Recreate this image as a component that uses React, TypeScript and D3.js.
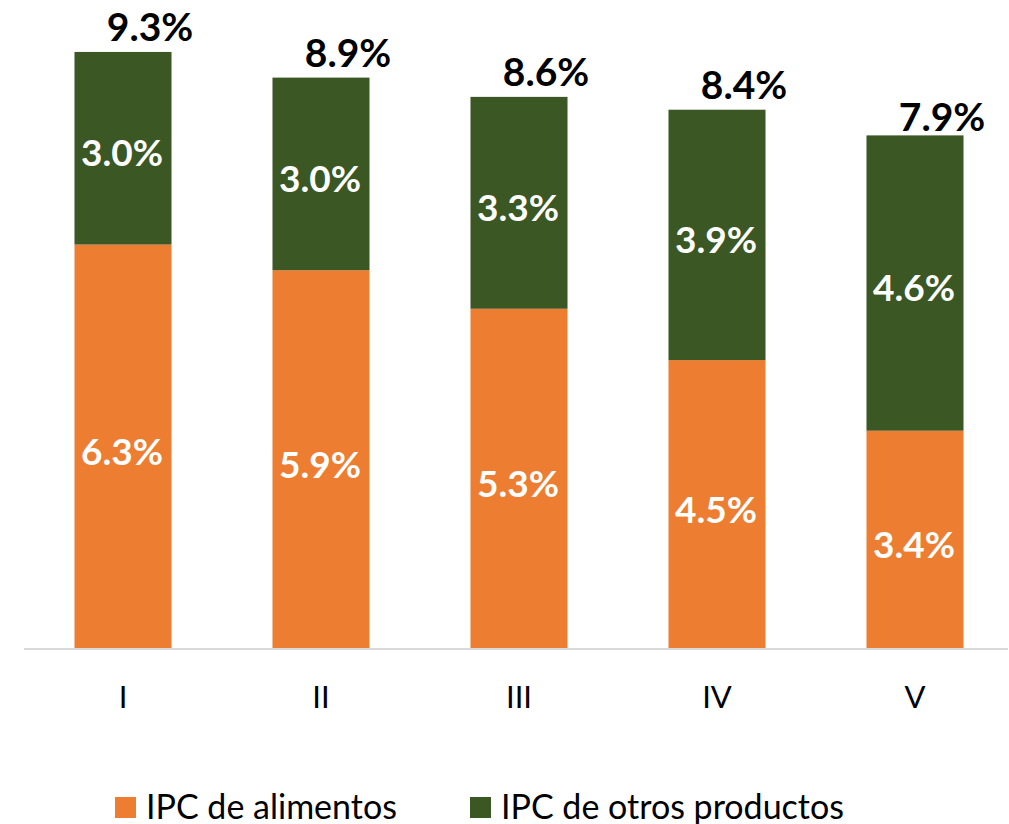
import React from "react";
import * as d3 from "d3";

const categories = ["I", "II", "III", "IV", "V"];
const alimentos = [6.3, 5.9, 5.3, 4.5, 3.4];
const otros = [3.0, 3.0, 3.3, 3.9, 4.6];
const totals = [9.3, 8.9, 8.6, 8.4, 7.9];
const seriesNames = ["IPC de alimentos", "IPC de otros productos"];
const colors = ["#ED7D31", "#3A5724"];

const W = 1009;
const H = 824;
const FONT = "Lato, 'Open Sans', sans-serif";

export default function App() {
  const x = d3.scaleBand<string>().domain(categories).range([24, 1014]).paddingInner(0.51).paddingOuter(0.255);
  const y = d3.scaleLinear().domain([0, 10]).range([649, 7]);
  const rows = categories.map((c, i) => ({ cat: c, alimentos: alimentos[i], otros: otros[i] }));
  const stack = d3.stack<any>().keys(["alimentos", "otros"])(rows);
  const bw = x.bandwidth();
  const fmt = (v: number) => v.toFixed(1) + "%";

  return (
    <svg width={W} height={H} style={{ position: "absolute", left: 0, top: 0 }}>
      <rect width={W} height={H} fill="#fff" />
      {stack.map((layer, si) =>
        layer.map((d, i) => {
          const x0 = x(categories[i])!;
          const y0 = y(d[1]);
          const y1 = y(d[0]);
          return (
            <g key={`${si}-${i}`}>
              <rect x={x0} y={y0} width={bw} height={y1 - y0} fill={colors[si]} />
              <text
                x={x0 + bw / 2 - 1}
                y={(y0 + y1) / 2 + 18}
                textAnchor="middle"
                fill="#fff"
                fontFamily={FONT}
                fontWeight="bold"
                fontSize={37}
              >
                {fmt(si === 0 ? alimentos[i] : otros[i])}
              </text>
            </g>
          );
        })
      )}
      <line x1={24} x2={1008} y1={649} y2={649} stroke="#D9D9D9" strokeWidth={2} />
      {totals.map((t, i) => (
        <text
          key={`t${i}`}
          x={x(categories[i])! + bw / 2 + 27}
          y={y(t) - 11}
          textAnchor="middle"
          fill="#000"
          fontFamily={FONT}
          fontWeight="bold"
          fontSize={39}
        >
          {fmt(t)}
        </text>
      ))}
      {categories.map((c) => (
        <text
          key={c}
          x={x(c)! + bw / 2}
          y={708}
          textAnchor="middle"
          fill="#000"
          fontFamily={FONT}
          fontSize={31}
        >
          {c}
        </text>
      ))}
      {seriesNames.map((n, i) => {
        const lx = i === 0 ? 115 : 470;
        return (
          <g key={n}>
            <rect x={lx} y={797} width={21} height={21} fill={colors[i]} />
            <text x={lx + 31} y={819} fill="#000" fontFamily={FONT} fontSize={34}>
              {n}
            </text>
          </g>
        );
      })}
    </svg>
  );
}
